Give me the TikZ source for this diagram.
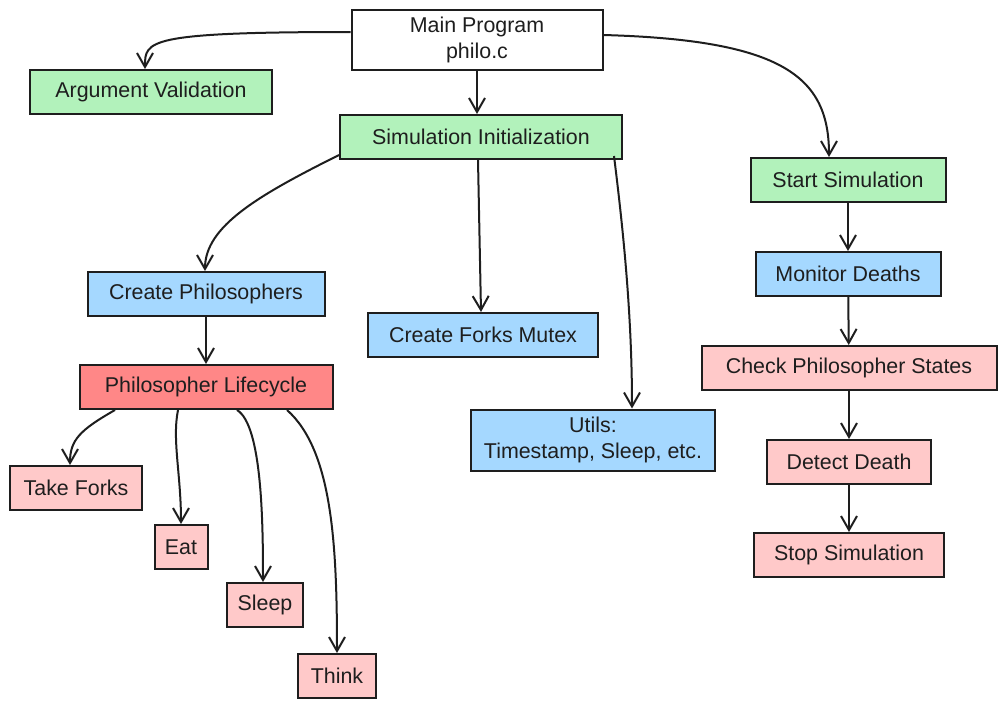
\documentclass[tikz,border=0pt]{standalone}
\usepackage{fontspec}
\setmainfont{Liberation Sans}
\usepackage{xcolor}
\usetikzlibrary{arrows.meta}
\definecolor{inkline}{HTML}{1E1E1E}
\definecolor{initgreen}{HTML}{B2F2BB}
\definecolor{setupblue}{HTML}{A5D8FF}
\definecolor{taskpink}{HTML}{FFC9C9}
\definecolor{lifered}{HTML}{FF8787}
\tikzset{box/.style={draw=inkline,line width=1pt,rectangle,inner sep=0pt,
   minimum height=22pt,align=center,font=\fontsize{10.7}{13}\selectfont,text=inkline},
 green/.style={box,fill=initgreen},
 blue/.style={box,fill=setupblue},
 pink/.style={box,fill=taskpink},
 red/.style={box,fill=lifered},
 arr/.style={draw=inkline,line width=1pt,-{Straight Barb[length=7pt,width=8pt]}},
 }

\begin{document}
\begin{tikzpicture}[x=0.5pt,y=-0.5pt]
        \useasboundingbox (0,0) rectangle (1006,708);
        \node[box,fill=white,minimum width=125.5pt,minimum height=30pt] (main) at (477,40) {Main Program\\philo.c};
        \node[green,minimum width=121pt] (argval) at (151,92) {Argument Validation};
        \node[green,minimum width=141pt] (siminit) at (481,137) {Simulation Initialization};
        \node[green,minimum width=97.5pt] (startsim) at (848,180) {Start Simulation};
        \node[blue,minimum width=118.5pt] (createphil) at (206,294) {Create Philosophers};
        \node[blue,minimum width=115pt] (forks) at (483,335) {Create Forks Mutex};
        \node[blue,minimum width=92.5pt] (monitor) at (848,274) {Monitor Deaths};
        \node[pink,minimum width=147.5pt] (check) at (849,368) {Check Philosopher States};
        \node[red,minimum width=126.5pt] (lifecycle) at (206,387) {Philosopher Lifecycle};
        \node[blue,minimum width=122pt,minimum height=30.5pt] (utils) at (593,440) {Utils:\\Timestamp, Sleep, etc.};
        \node[pink,minimum width=66pt] (take) at (76,488) {Take Forks};
        \node[pink,minimum width=26.5pt] (eat) at (181,547) {Eat};
        \node[pink,minimum width=38pt] (sleep) at (265,605) {Sleep};
        \node[pink,minimum width=39pt] (think) at (337,676) {Think};
        \node[pink,minimum width=82pt] (detect) at (849,462) {Detect Death};
        \node[pink,minimum width=95pt] (stopsim) at (849,555) {Stop Simulation};

        \draw[arr] ([yshift=4pt]main.west) .. controls +(-205,0) and +(0,-28) .. ([xshift=-3pt]argval.north);
        \draw[arr] (main.south) -- (main.south |- siminit.north);
        \draw[arr] ([yshift=2.5pt]main.east) .. controls +(180,5) and +(0,-80) .. ([xshift=-9.5pt]startsim.north);
        \draw[arr] ([yshift=-9pt]siminit.west) .. controls +(-80,40) and +(0,-45) .. ([xshift=-0.5pt]createphil.north);
        \draw[arr] ([xshift=-1.5pt]siminit.south) -- ([xshift=-1pt]forks.north);
        \draw[arr] ([xshift=66.5pt,yshift=2pt]siminit.south) .. controls +(10,80) and +(0,-90) .. ([xshift=19.5pt]utils.north);
        \draw[arr] (startsim) -- (monitor);
        \draw[arr] (monitor) -- (check);
        \draw[arr] (check) -- (detect);
        \draw[arr] (detect) -- (stopsim);
        \draw[arr] (createphil) -- (lifecycle);
        \draw[arr] ([xshift=-45.5pt]lifecycle.south) .. controls +(-35,20) and +(0,-25) .. ([xshift=-3pt]take.north);
        \draw[arr] ([xshift=-14pt]lifecycle.south) .. controls +(-6,30) and +(0,-50) .. (eat.north);
        \draw[arr] ([xshift=15.5pt]lifecycle.south) .. controls +(25,15) and +(0,-60) .. ([xshift=-1pt]sleep.north);
        \draw[arr] ([xshift=40.5pt]lifecycle.south) .. controls +(45,40) and +(0,-110) .. (think.north);
    \end{tikzpicture}
\end{document}
